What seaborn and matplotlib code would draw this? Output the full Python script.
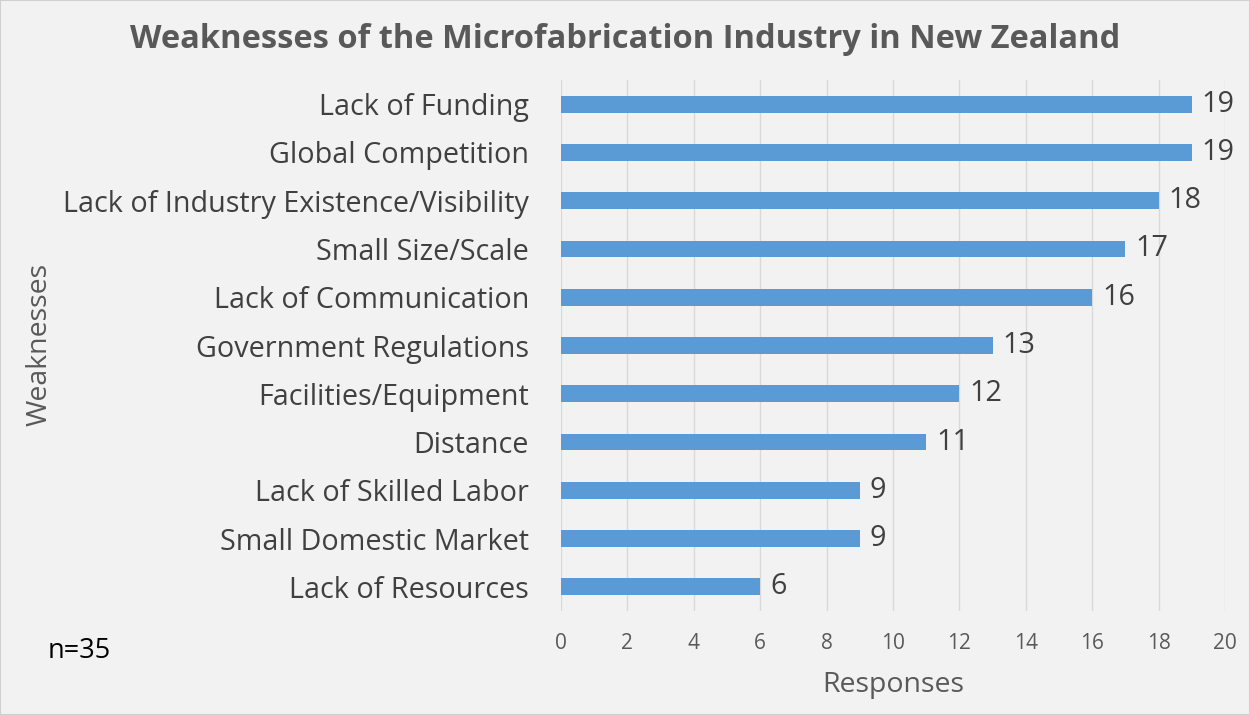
import matplotlib
matplotlib.use("Agg")
import matplotlib.pyplot as plt
import seaborn as sns
import pandas as pd

categories = [
    "Lack of Funding",
    "Global Competition",
    "Lack of Industry Existence/Visibility",
    "Small Size/Scale",
    "Lack of Communication",
    "Government Regulations",
    "Facilities/Equipment",
    "Distance",
    "Lack of Skilled Labor",
    "Small Domestic Market",
    "Lack of Resources",
]
responses = [19, 19, 18, 17, 16, 13, 12, 11, 9, 9, 6]
x_ticks = [0, 2, 4, 6, 8, 10, 12, 14, 16, 18, 20]

df = pd.DataFrame({"Weakness": categories, "Responses": responses})

sns.set_theme(style="white")
plt.rcParams["font.family"] = ["Open Sans", "DejaVu Sans"]

bg = "#f2f2f2"
fig = plt.figure(figsize=(12.5, 7.15), dpi=100, facecolor=bg)
fig.patches.append(plt.Rectangle((0, 0), 1, 1, transform=fig.transFigure,
                                 fill=False, edgecolor="#d0d0d0", linewidth=1.5))
ax = fig.add_axes([0.4488, 0.1455, 0.5312, 0.7425])
ax.set_facecolor(bg)

sns.barplot(data=df, x="Responses", y="Weakness", color="#5b9bd5",
            width=0.35, ax=ax, zorder=3, saturation=1, linewidth=0)

ax.set_xlim(0, 20)
ax.set_xticks(x_ticks)
ax.set_xticklabels([str(t) for t in x_ticks], color="#595959", fontsize=15)
ax.grid(axis="x", color="#d9d9d9", linewidth=1, zorder=0)
ax.tick_params(axis="x", length=6, color="#d9d9d9", pad=10)
ax.tick_params(axis="y", length=0, pad=23, labelsize=20.7, labelcolor="#404040")
for s in ax.spines.values():
    s.set_visible(False)

ax.set_xlabel("Responses", fontsize=20.5, color="#595959", labelpad=12)
ax.set_ylabel("")

for i, v in enumerate(responses):
    ax.text(v + 0.3, i, str(v), va="center", ha="left", fontsize=20.7, color="#404040")

fig.text(0.032, 0.518, "Weaknesses", rotation=90, va="center", ha="center",
         fontsize=20.5, color="#595959")
fig.text(0.5, 0.945, "Weaknesses of the Microfabrication Industry in New Zealand",
         ha="center", va="center", fontsize=23.5, fontweight="bold", color="#595959")
fig.text(0.038, 0.089, "n=35", ha="left", va="center", fontsize=19.5, color="#000000")

fig.savefig("out.png", dpi=100, facecolor=bg)
